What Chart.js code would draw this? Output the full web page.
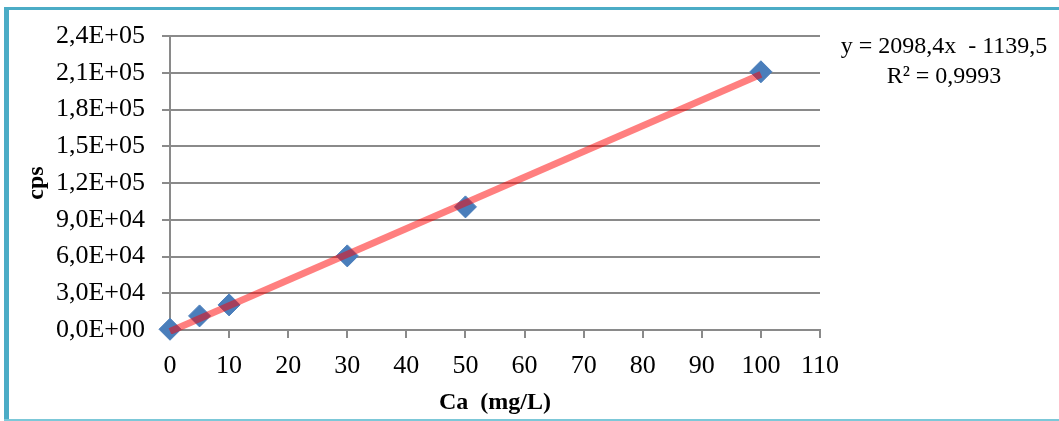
<!DOCTYPE html>
<html>
<head>
<meta charset="utf-8">
<script src="https://cdn.jsdelivr.net/npm/chart.js@4.4.1/dist/chart.umd.min.js"></script>
<style>
  body { margin: 0; background: #fff; }
  #wrap { width: 1059px; height: 421px; position: relative; }
</style>
</head>
<body>
<div id="wrap"><canvas id="myChart"></canvas></div>
<script>
// calibration points
var conc = [0, 5, 10, 30, 50, 100];
var counts = [600, 11500, 20500, 60500, 100500, 210800];

// excel trendline end points (y = 2098,4x - 1139,5)
var trendX = [0, 100];
var trendY = [-1139.5, 208700.5];

var yTickLabels = ['0,0E+00', '3,0E+04', '6,0E+04', '9,0E+04', '1,2E+05',
                   '1,5E+05', '1,8E+05', '2,1E+05', '2,4E+05'];
var xTickLabels = ['0', '10', '20', '30', '40', '50', '60', '70', '80', '90', '100', '110'];

var eqLines = ['y = 2098,4x  - 1139,5', 'R\u00b2 = 0,9993'];

var serif = "'Liberation Serif', 'Times New Roman', serif";
var gridGrey = '#8a8a8a';

var frame = {
    id: 'frame',
    beforeDraw: function(chart) {
        var c = chart.ctx;
        c.save();
        c.fillStyle = '#fff';
        c.fillRect(0, 0, chart.width, chart.height);
        c.fillStyle = '#4bacc6';
        c.fillRect(4, 7, 5, 414);
        c.fillRect(4, 7, chart.width - 4, 3);
        c.fillStyle = '#7cc8d8';
        c.fillRect(4, 419, chart.width - 4, 2);
        c.restore();
    },
    afterDraw: function(chart) {
        var c = chart.ctx;
        c.save();
        c.fillStyle = '#000';
        c.font = '24px ' + serif;
        c.textAlign = 'center';
        c.textBaseline = 'alphabetic';
        c.fillText(eqLines[0], 944, 53);
        c.fillText(eqLines[1], 944, 83);
        c.restore();
    }
};

var trendPts = trendX.map(function(x, i) { return {x: x, y: trendY[i]}; });
var dataPts = conc.map(function(x, i) { return {x: x, y: counts[i]}; });

var ctx = document.getElementById('myChart').getContext('2d');
var chart = new Chart(ctx, {
    type: 'scatter',
    data: {
        datasets: [{
            type: 'line',
            data: trendPts,
            borderColor: 'rgba(255, 0, 0, 0.5)',
            borderWidth: 7,
            pointRadius: 0,
            fill: false,
            clip: 4,
            order: 0
        }, {
            data: dataPts,
            pointStyle: 'rectRot',
            pointRadius: 11,
            backgroundColor: '#4a7ebb',
            borderColor: '#4a7ebb',
            borderWidth: 1,
            clip: false,
            order: 1
        }]
    },
    options: {
        responsive: true,
        maintainAspectRatio: false,
        animation: false,
        layout: { padding: { left: 10, top: 36, right: 239, bottom: 4 } },
        plugins: {
            legend: { display: false },
            tooltip: { enabled: false }
        },
        scales: {
            x: {
                type: 'linear',
                min: 0,
                max: 110,
                afterFit: function(s) { s.height = 87; },
                ticks: {
                    stepSize: 10,
                    color: '#000',
                    padding: 13,
                    font: { family: serif, size: 26 },
                    callback: function(v, i) { return xTickLabels[i]; }
                },
                grid: { drawOnChartArea: false, color: gridGrey, lineWidth: 2, tickLength: 8 },
                border: { color: gridGrey, width: 2 },
                title: {
                    display: true,
                    text: 'Ca  (mg/L)',
                    color: '#000',
                    font: { family: serif, size: 24, weight: 'bold' },
                    padding: 0
                }
            },
            y: {
                min: 0,
                max: 240000,
                afterFit: function(s) { s.width = 160; },
                ticks: {
                    stepSize: 30000,
                    color: '#000',
                    padding: 17,
                    font: { family: serif, size: 26 },
                    callback: function(v, i) { return yTickLabels[i]; }
                },
                grid: { color: gridGrey, lineWidth: 2, tickLength: 8 },
                border: { color: gridGrey, width: 2 },
                title: {
                    display: true,
                    text: 'cps',
                    color: '#000',
                    font: { family: serif, size: 24, weight: 'bold' },
                    padding: 12
                }
            }
        }
    },
    plugins: [frame]
});
</script>
</body>
</html>
